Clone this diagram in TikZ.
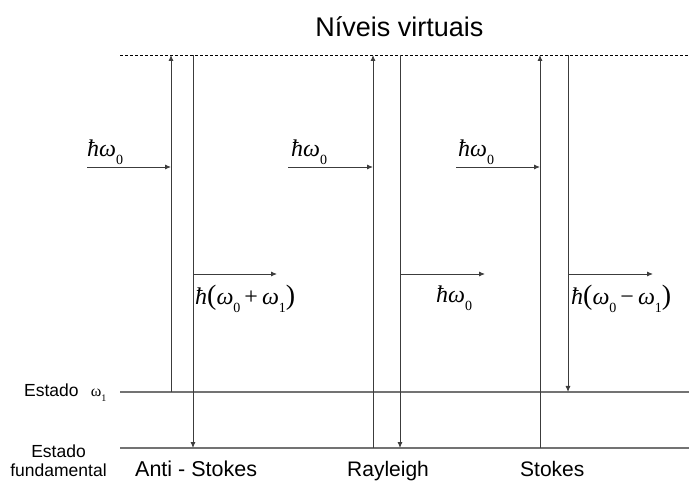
\documentclass[tikz,border=0pt]{standalone}
\usepackage{fontspec}
\setmainfont{Liberation Sans}
\newfontfamily\tms{Liberation Serif}
\usetikzlibrary{arrows.meta}
\definecolor{levelgray}{RGB}{115,115,115}
\definecolor{linegray}{RGB}{60,60,60}
\newcommand\mysub[1]{\raisebox{-0.3em}{\fontsize{14}{14}\selectfont\tms #1}}
\newcommand\myhb{{\tms\itshape ħ}}
\newcommand\myom{{\tms\itshape ω}}
\newcommand\mylp{{\tms\fontsize{28}{28}\selectfont(}}
\newcommand\myrp{{\tms\fontsize{28}{28}\selectfont)}}
\tikzset{
  level/.style={draw=levelgray, line width=1.6pt},
  virt/.style={draw=black, line width=0.8pt, dash pattern=on 3pt off 2pt},
  trans/.style={draw=linegray, line width=0.9pt, -{Latex[length=6pt,width=5pt]}},
  photon/.style={draw=linegray, line width=0.9pt, -{Latex[length=6pt,width=5pt]}},
  lab/.style={inner sep=0pt, anchor=base west},
  mlab/.style={inner sep=0pt, anchor=base west, font=\fontsize{24}{24}\selectfont},
}
\begin{document}
\begin{tikzpicture}[x=1pt,y=-1pt]
\useasboundingbox (0,0) rectangle (689,481);
% levels
\coordinate (vL) at (120,55);  \coordinate (vR) at (689,55);
\coordinate (eL) at (120,392); \coordinate (eR) at (689,392);
\coordinate (gL) at (120,448); \coordinate (gR) at (689,448);
\draw[virt] (vL) -- (vR);
\draw[level] (eL) -- (eR);
\draw[level] (gL) -- (gR);
% title
\node[inner sep=0pt, anchor=base, font=\fontsize{27}{27}\selectfont] (title) at (399.5,36.7) {Níveis virtuais};
% vertical transitions
\coordinate (a1) at (171,392); \coordinate (a2) at (171,55);
\coordinate (a3) at (193,55);  \coordinate (a4) at (193,448);
\coordinate (r1) at (373,448); \coordinate (r2) at (373,55);
\coordinate (r3) at (400,55);  \coordinate (r4) at (400,448);
\coordinate (s1) at (540,448); \coordinate (s2) at (540,55);
\coordinate (s3) at (568,55);  \coordinate (s4) at (568,392);
\draw[trans] (a1) -- (a2);
\draw[trans] (a3) -- (a4);
\draw[trans] (r1) -- (r2);
\draw[trans] (r3) -- (r4);
\draw[trans] (s1) -- (s2);
\draw[trans] (s3) -- (s4);
% incoming photons
\coordinate (ai) at (87,167);  \coordinate (aie) at (171,167);
\coordinate (ri) at (288,167); \coordinate (rie) at (373,167);
\coordinate (si) at (456,167); \coordinate (sie) at (540,167);
\draw[photon] (ai) -- (aie);
\draw[photon] (ri) -- (rie);
\draw[photon] (si) -- (sie);
% outgoing photons
\coordinate (ao) at (193,274); \coordinate (aoe) at (277,274);
\coordinate (ro) at (400,274); \coordinate (roe) at (485,274);
\coordinate (so) at (568,274); \coordinate (soe) at (653,274);
\draw[photon] (ao) -- (aoe);
\draw[photon] (ro) -- (roe);
\draw[photon] (so) -- (soe);
% photon labels
\node[mlab] (lai) at (87,157) {\myhb\myom\mysub{0}};
\node[mlab] (lri) at (291,157) {\myhb\myom\mysub{0}};
\node[mlab] (lsi) at (458,157) {\myhb\myom\mysub{0}};
\node[mlab] (lao) at (195,305) {\myhb\mylp\myom\mysub{0}\,{\tms+}\,\myom\mysub{1}\myrp};
\node[mlab] (lro) at (436,303) {\myhb\myom\mysub{0}};
\node[mlab] (lso) at (571,305) {\myhb\mylp\myom\mysub{0}\,{\tms −}\,\myom\mysub{1}\myrp};
% level labels
\node[lab, font=\fontsize{17.5}{17.5}\selectfont] (le) at (24,396.5) {Estado\hspace{0.7em}{\tms\fontsize{16}{16}\selectfont ω}\raisebox{-0.3em}{\tms\fontsize{10}{10}\selectfont 1}};
\node[inner sep=0pt, anchor=base, font=\fontsize{17.5}{17.5}\selectfont] (lg1) at (58.5,457) {Estado};
\node[inner sep=0pt, anchor=base, font=\fontsize{17.5}{17.5}\selectfont] (lg2) at (58.5,476) {fundamental};
% process labels
\node[lab, font=\fontsize{21.5}{21.5}\selectfont] (pA) at (135,476) {Anti - Stokes};
\node[lab, font=\fontsize{21}{21}\selectfont] (pR) at (347,476) {Rayleigh};
\node[lab, font=\fontsize{21}{21}\selectfont] (pS) at (520,476) {Stokes};
\end{tikzpicture}
\end{document}
